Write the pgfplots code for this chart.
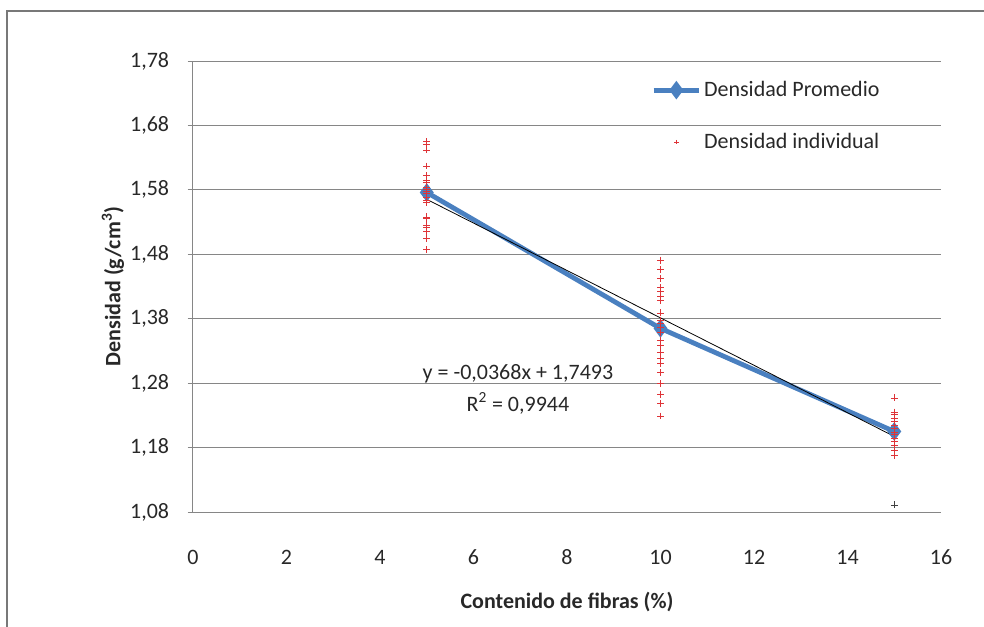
\documentclass[border=0pt]{standalone}
\usepackage{fontspec}
\setmainfont{Carlito}
\usepackage{pgfplots}
\pgfplotsset{compat=1.18}

\definecolor{promblue}{RGB}{74,128,192}
\definecolor{indred}{RGB}{222,52,56}
\definecolor{gridgray}{RGB}{134,134,134}
\definecolor{framegray}{RGB}{120,120,120}
\definecolor{txt}{RGB}{40,40,40}

\pgfplotsset{
    longleg/.style={legend image code/.code={%
        \draw[mark repeat=2,mark phase=2,##1] plot coordinates {(0pt,0pt) (17pt,0pt) (34pt,0pt)};}},
    smallmarkleg/.style={legend image code/.code={%
        \draw[mark repeat=2,mark phase=2,##1,mark size=1.6pt] plot coordinates {(0pt,0pt) (17pt,0pt) (34pt,0pt)};}},
}

\begin{document}
\begin{tikzpicture}
% page = 984 x 627 px, 1 px = 0.75 pt, axis origin at px (193,512)
\useasboundingbox (-144.75pt,-86.25pt) rectangle (593.25pt,384pt);
\draw[framegray, line width=1.5pt] (-139.5pt,-90pt) -- (-139.5pt,375.75pt) -- (600pt,375.75pt);

\begin{axis}[
    at={(0pt,0pt)}, anchor=south west,
    scale only axis, width=561pt, height=338.25pt,
    xmin=0, xmax=16, ymin=1.08, ymax=1.78,
    xtick={0,2,4,6,8,10,12,14,16},
    ytick={1.08,1.18,1.28,1.38,1.48,1.58,1.68,1.78},
    axis lines*=left,
    axis line style={gridgray, line width=0.75pt},
    ymajorgrids, grid style={gridgray, line width=0.75pt},
    tick align=outside, major tick length=4pt,
    ytick style={gridgray, line width=0.75pt},
    xtick style={draw=none},
    font=\fontsize{16.5}{19}\selectfont,
    tick label style={txt},
    /pgf/number format/assume math mode=true,
    yticklabel style={/pgf/number format/use comma, /pgf/number format/fixed,
        /pgf/number format/fixed zerofill, /pgf/number format/precision=2,
        xshift=-10.4pt},
    xticklabel style={anchor=center, yshift=-30pt},
    ylabel={\textbf{Densidad (g/cm\textsuperscript{3})}},
    xlabel={\textbf{Contenido de fibras (\%)}},
    ylabel style={at={(axis description cs:-0.107,0.5)}, anchor=center, txt},
    xlabel style={at={(axis description cs:0.5,0)}, anchor=center, yshift=-67.5pt, txt},
    legend cell align=left,
    legend style={draw=none, fill=none, anchor=north west,
        at={(axis description cs:0.607,0.967)}, row sep=22pt,
        font=\fontsize{16.5}{19}\selectfont, text=txt},
]

\addplot[promblue, line width=3.6pt, mark=diamond*, mark size=4pt,
    mark options={promblue}, longleg]
coordinates {(5,1.576) (10,1.365) (15,1.205)};
\addlegendentry{Densidad Promedio}

\addplot[only marks, indred, mark=+, mark size=2.6pt, line width=0.6pt, smallmarkleg]
coordinates {
    (5,1.655) (5,1.650) (5,1.642) (5,1.617) (5,1.602) (5,1.595) (5,1.591)
    (5,1.584) (5,1.581) (5,1.577) (5,1.574) (5,1.569) (5,1.564) (5,1.560)
    (5,1.538) (5,1.535) (5,1.525) (5,1.522) (5,1.515) (5,1.505) (5,1.487)
    (10,1.471) (10,1.456) (10,1.442) (10,1.428) (10,1.422) (10,1.414) (10,1.408)
    (10,1.389) (10,1.378) (10,1.373) (10,1.367) (10,1.358) (10,1.347) (10,1.338)
    (10,1.327) (10,1.319) (10,1.310) (10,1.296) (10,1.279) (10,1.263) (10,1.248)
    (10,1.229)
    (15,1.257) (15,1.235) (15,1.231) (15,1.226) (15,1.220) (15,1.215) (15,1.210)
    (15,1.204) (15,1.200) (15,1.195) (15,1.189) (15,1.184) (15,1.176) (15,1.168)
};
\addlegendentry{Densidad individual}

% outlier drawn dark in the reference
\addplot[only marks, black!75, mark=+, mark size=2.6pt, line width=0.6pt, forget plot]
coordinates {(15,1.091)};

% linear trend line y = -0,0368x + 1,7493
\addplot[black, line width=0.6pt, forget plot]
coordinates {(5,1.5653) (15,1.1973)};

\node[align=center, txt, font=\fontsize{16.5}{24}\selectfont] at (axis cs:6.95,1.271)
    {y = -0,0368x + 1,7493\\R\textsuperscript{2} = 0,9944};

\end{axis}
\end{tikzpicture}
\end{document}
